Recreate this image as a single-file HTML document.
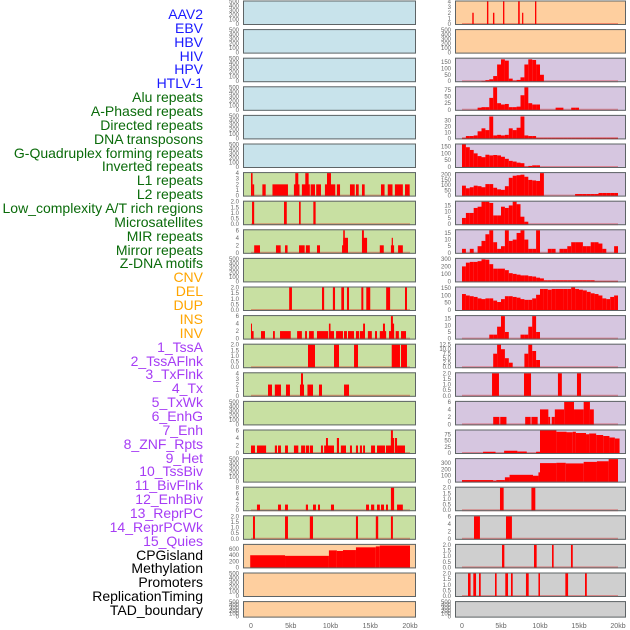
<!DOCTYPE html>
<html><head><meta charset="utf-8">
<style>
html,body{margin:0;padding:0;background:#fff;}
#wrap{position:relative;width:630px;height:630px;overflow:hidden;}
.lab{position:absolute;right:427px;font-family:"Liberation Sans",sans-serif;font-size:14px;line-height:14px;white-space:nowrap;}
svg text{font-family:"Liberation Sans",sans-serif;}
</style></head>
<body>
<div id="wrap">
<div id="labels"></div>
<svg id="svg" width="630" height="630" style="position:absolute;left:0;top:0"></svg>
</div>
<script>
// ---- track names ----
const labelNames = ["AAV2","EBV","HBV","HIV","HPV","HTLV-1","Alu repeats","A-Phased repeats","Directed repeats","DNA transposons","G-Quadruplex forming repeats","Inverted repeats","L1 repeats","L2 repeats","Low_complexity A/T rich regions","Microsatellites","MIR repeats","Mirror repeats","Z-DNA motifs","CNV","DEL","DUP","INS","INV","1_TssA","2_TssAFlnk","3_TxFlnk","4_Tx","5_TxWk","6_EnhG","7_Enh","8_ZNF_Rpts","9_Het","10_TssBiv","11_BivFlnk","12_EnhBiv","13_ReprPC","14_ReprPCWk","15_Quies","CPGisland","Methylation","Promoters","ReplicationTiming","TAD_boundary"];
const labelGroups = [6,13,5,15,5];
const groupColors = ["#1a1aff","#0a6b0a","#ffa500","#a63cf5","#000000"];
const xTicks = [0,5,10,15,20];
const xTickLabels = ["0","5kb","10kb","15kb","20kb"];

// ---- segment data: [start_kb, end_kb, value] ----
const segM6 = [[0,0.2,4],[0.2,0.4,2],[1.43,1.85,2],[2.7,4.65,2],[5.4,6.1,2],[5.57,5.95,4],[6.4,7.4,2],[6.83,7.25,4],[7.5,8.05,2],[8.2,8.8,2],[9.3,10.6,2],[9.56,10.06,4],[10.8,11.2,2],[12.45,13.05,2],[13.2,13.55,2],[13.96,14.3,2],[16.35,16.8,2],[17.2,17.8,2],[18.1,19.1,2],[19.37,19.96,2]];
const segM7 = [[0.13,0.4,2],[4.15,4.5,2],[6.04,6.25,2],[7.84,8.13,2]];
const segM8 = [[0.4,1.13,2],[3.14,3.73,2],[4.28,4.6,2],[6.04,6.75,2],[6.9,7.4,2],[8.3,8.68,2],[11.45,12.2,2],[11.6,12.2,4],[11.6,11.8,6],[13.96,14.6,4],[13.96,14.2,6],[16.2,16.7,2],[17.6,18,2],[17.7,17.85,4],[18.5,19.1,2]];
const segM10 = [[4.8,5.15,2],[8.93,9.2,2],[10.3,10.57,2],[11.36,11.7,2],[12.07,12.33,2],[13.88,14.13,2],[14.5,15.0,2],[17,17.5,2],[19.37,19.62,2]];
const segM11 = [[0,0.33,2],[0,0.12,4],[1.26,1.76,2],[2.77,3.0,2],[3.65,5.0,2],[5.8,6.4,2],[6.8,7.04,2],[7.3,7.9,2],[8.3,9.7,2],[9.8,10.44,2],[9.8,10.0,4],[10.7,11.57,2],[11.7,12.07,2],[12.2,12.96,2],[13.2,13.6,2],[13.7,14.34,2],[14.1,14.34,4],[14.7,15.2,2],[15.6,15.85,2],[16.2,17.0,2],[16.6,16.85,4],[17.36,18.0,2],[17.7,18.0,4],[17.6,17.85,6],[18.2,18.6,2],[18.87,19.5,2]];
const segM12 = [[7.17,8.05,2],[10.44,11.07,2],[12.96,13.46,2],[17.7,18.74,2],[18.87,19.62,2]];
const segM13 = [[2.14,2.64,2],[3.0,3.77,2],[4.4,4.9,2],[6.16,6.67,2],[6.29,6.54,4],[7.1,7.8,2],[8.55,8.93,2],[11.7,12.33,2]];
const segM15 = [[0,0.5,2],[0.75,1.9,2],[3.0,3.27,2],[3.4,3.77,2],[4.28,4.65,2],[5.4,5.95,2],[6.3,6.8,2],[6.9,7.3,2],[7.4,7.8,2],[8.8,9.05,2],[9.2,10.44,2],[9.43,9.68,4],[10.8,11.07,4],[11.3,11.95,2],[12.45,12.7,2],[13.2,13.46,2],[13.7,13.96,2],[14.1,14.34,2],[15.1,15.6,2],[15.85,16.86,2],[16.98,17.23,2],[17.23,18.0,2],[17.6,18.0,4],[17.6,17.85,6],[18.1,18.37,4],[18.37,19.37,2]];
const segM17 = [[0.75,1.13,2],[3.4,3.77,2],[4.28,4.65,2],[6.9,7.17,2],[7.8,8.17,2],[8.43,8.68,2],[10.06,10.44,2],[14.47,14.84,2],[15.1,15.5,2],[15.85,16.2,2],[16.35,16.73,2],[16.98,17.23,2],[17.6,18,8],[18.37,19.1,2]];
const segM18 = [[0.25,0.5,2],[4.28,4.65,2],[7.4,7.8,2],[13.2,13.46,2],[15.7,16.0,2],[17.6,17.85,2]];
const segM19 = [[-0.1,4.28,400],[4.28,9.8,380],[9.8,10.8,560],[10.8,11.57,540],[11.57,13.2,570],[13.2,15.7,660],[15.7,16.2,690],[16.2,20,720]];
const segR0 = [[1.32,1.5,2],[3.2,3.38,4],[3.97,4.15,2],[5.26,5.43,4],[7.2,7.4,4],[7.7,7.86,2],[9.36,9.53,4]];
const segR13 = [[3.85,4.74,2],[7.95,8.85,2],[12.3,12.8,2],[14.74,15.26,2]];
const segR14 = [[4.0,4.8,2],[4.9,5.7,2],[8.1,8.8,2],[8.9,9.7,2],[10,11.07,4],[11.07,11.3,2],[11.5,11.9,2],[11.9,13.1,4],[13.1,14.36,6],[14.36,15.6,4],[15.6,16.4,6],[16.4,16.9,4]];
const segR15 = [[2.7,4.3,5],[5.4,7.1,9],[7.1,8.3,6],[9.5,10,5],[10,12.1,90],[12.1,13.4,85],[13.4,14.2,83],[14.2,14.6,85],[14.6,15.9,80],[15.9,16.3,75],[16.3,17.2,78],[17.2,18.1,72],[18.1,18.9,68],[18.9,19.6,62],[19.6,20.2,58]];
const segR16 = [[0,4,25],[4,4.4,15],[4.4,5.5,25],[5.5,6.1,70],[6.1,9.1,110],[9.1,9.8,95],[9.8,10,150],[10,12.1,300],[12.1,13.3,305],[13.3,15.6,295],[15.6,17.3,320],[17.3,18.8,330],[18.8,20,365]];
const segR17 = [[4.87,5.34,2],[8.9,9.4,2]];
const segR18 = [[1.54,2.3,6],[5.64,6.4,6]];
const segR19 = [[5.13,5.43,2],[9.23,9.57,2],[11.54,11.75,2],[13.97,14.2,2]];
const segR20 = [[0.77,1.1,2],[1.45,1.8,2],[2.18,2.4,2],[4.23,4.44,2],[5.55,5.9,2],[6.28,6.5,2],[8.2,8.55,2],[9.8,10,2],[13.25,13.6,2],[15.77,16,2]];

// ---- binned data: 0.5kb bins starting at 0 kb ----
const binR2 = [0,0,0,0,0,2,8,15,40,130,170,160,20,5,10,30,130,170,165,130,50];
const binR3 = [0,0,0,0,8,10,10,45,85,25,20,22,10,10,12,55,85,25,20,20,0,0,0,0,8,8,0,0,8,8];
const binR4 = [1,4,4,5,12,17,14,37,5,6,5,6,17,14,18,37,5,4,4,1,1,1,1,1,1,1,1,1,1,1,1,1,1,1,1,1,1,1,1,1];
const binR5 = [165,145,125,100,80,72,90,85,88,85,75,60,45,40,32,28,3,8,12,12];
const binR6 = [95,70,80,95,90,80,110,110,75,60,55,90,170,190,195,200,180,150,145,140,215,0,0,0,0,0,0,0,0,15,15,15,15,15,15,25,25,25,25,25];
const binR7 = [5,9,9,13,14,18,18,17,7,7,14,13,15,18,16,6,2];
const binR8 = [3,0,3,0,5,9,14,17,8,3,5,17,9,10,15,17,10,3,3,17,0,0,3,3,0,3,3,5,8,8,8,5,5,8,8,7,3,0,0,5];
const binR9 = [200,250,260,260,270,295,290,230,170,170,170,150,110,100,90,80,80,70,65,50,40,15,15,15,15,15,15,15,15,15,15,15,15,15,3,3,3,3,3,3];
const binR10 = [110,100,95,90,80,75,80,80,65,55,75,95,95,90,85,75,70,70,80,105,145,145,140,145,145,145,145,145,155,145,140,135,125,115,110,100,80,75,90,100];
const binR11 = [0,0,0,0,0,0,0,3,3,9,17,5,0,0,0,3,3,9,17,5];
const binR12 = [0,0,0,0,0,0,0,0,7.5,12.5,10,5,2.5,0,0,0,7.5,12.5,9,4];

// ---- panel definitions ----
const panels = [
 {id:"aav2",col:0,row:0,bg:"#c8e3eb",ticks:[0,100,200,300,400,500],ymax:500},
 {id:"ebv",col:0,row:1,bg:"#c8e3eb",ticks:[0,100,200,300,400,500],ymax:500},
 {id:"hbv",col:0,row:2,bg:"#c8e3eb",ticks:[0,100,200,300,400,500],ymax:500},
 {id:"hiv",col:0,row:3,bg:"#c8e3eb",ticks:[0,100,200,300,400,500],ymax:500},
 {id:"hpv",col:0,row:4,bg:"#c8e3eb",ticks:[0,100,200,300,400,500],ymax:500},
 {id:"htlv1",col:0,row:5,bg:"#c8e3eb",ticks:[0,100,200,300,400,500],ymax:500},
 {id:"alu",col:0,row:6,bg:"#c8e0a2",ticks:[0,1,2,3,4],ymax:4,segs:segM6},
 {id:"a-phased",col:0,row:7,bg:"#c8e0a2",ticks:[0,0.5,1,1.5,2],ymax:2,dec:1,segs:segM7},
 {id:"directed",col:0,row:8,bg:"#c8e0a2",ticks:[0,2,4,6],ymax:6,segs:segM8},
 {id:"dna-transposons",col:0,row:9,bg:"#c8e0a2",ticks:[0,100,200,300,400,500],ymax:500},
 {id:"g-quadruplex",col:0,row:10,bg:"#c8e0a2",ticks:[0,0.5,1,1.5,2],ymax:2,dec:1,segs:segM10},
 {id:"inverted",col:0,row:11,bg:"#c8e0a2",ticks:[0,2,4,6],ymax:6,segs:segM11},
 {id:"l1",col:0,row:12,bg:"#c8e0a2",ticks:[0,0.5,1,1.5,2],ymax:2,dec:1,segs:segM12},
 {id:"l2",col:0,row:13,bg:"#c8e0a2",ticks:[0,1,2,3,4],ymax:4,segs:segM13},
 {id:"low-complexity",col:0,row:14,bg:"#c8e0a2",ticks:[0,100,200,300,400,500],ymax:500},
 {id:"microsatellites",col:0,row:15,bg:"#c8e0a2",ticks:[0,2,4,6],ymax:6,segs:segM15},
 {id:"mir",col:0,row:16,bg:"#c8e0a2",ticks:[0,100,200,300,400,500],ymax:500},
 {id:"mirror",col:0,row:17,bg:"#c8e0a2",ticks:[0,2,4,6,8],ymax:8,segs:segM17},
 {id:"z-dna",col:0,row:18,bg:"#c8e0a2",ticks:[0,0.5,1,1.5,2],ymax:2,dec:1,segs:segM18},
 {id:"cnv",col:0,row:19,bg:"#fecf9f",ticks:[0,200,400,600],ymax:740,segs:segM19,noBase:true},
 {id:"del",col:0,row:20,bg:"#fecf9f",ticks:[0,100,200,300,400,500],ymax:500},
 {id:"dup",col:0,row:21,bg:"#fecf9f",ticks:[0,100,200,300,400,500],ymax:500},
 {id:"ins",col:1,row:0,bg:"#fecf9f",ticks:[0,1,2,3,4],ymax:4,segs:segR0},
 {id:"inv",col:1,row:1,bg:"#fecf9f",ticks:[0,100,200,300,400,500],ymax:500},
 {id:"tssa",col:1,row:2,bg:"#d6c6e0",ticks:[0,50,100,150],ymax:175,bins:binR2},
 {id:"tssaflnk",col:1,row:3,bg:"#d6c6e0",ticks:[0,25,50,75],ymax:85,bins:binR3},
 {id:"txflnk",col:1,row:4,bg:"#d6c6e0",ticks:[0,10,20,30],ymax:38,bins:binR4},
 {id:"tx",col:1,row:5,bg:"#d6c6e0",ticks:[0,50,100,150],ymax:165,bins:binR5},
 {id:"txwk",col:1,row:6,bg:"#d6c6e0",ticks:[0,50,100,150,200],ymax:215,bins:binR6},
 {id:"enhg",col:1,row:7,bg:"#d6c6e0",ticks:[0,5,10,15],ymax:18,bins:binR7},
 {id:"enh",col:1,row:8,bg:"#d6c6e0",ticks:[0,5,10,15],ymax:17,bins:binR8},
 {id:"znf-rpts",col:1,row:9,bg:"#d6c6e0",ticks:[0,100,200,300],ymax:300,bins:binR9},
 {id:"het",col:1,row:10,bg:"#d6c6e0",ticks:[0,50,100,150],ymax:155,bins:binR10},
 {id:"tssbiv",col:1,row:11,bg:"#d6c6e0",ticks:[0,5,10,15],ymax:17,bins:binR11},
 {id:"bivflnk",col:1,row:12,bg:"#d6c6e0",ticks:[0,2.5,5,7.5,10,12.5],ymax:12.5,dec:1,bins:binR12},
 {id:"enhbiv",col:1,row:13,bg:"#d6c6e0",ticks:[0,0.5,1,1.5,2],ymax:2,dec:1,segs:segR13},
 {id:"reprpc",col:1,row:14,bg:"#d6c6e0",ticks:[0,2,4,6],ymax:6,segs:segR14},
 {id:"reprpcwk",col:1,row:15,bg:"#d6c6e0",ticks:[0,25,50,75],ymax:90,segs:segR15},
 {id:"quies",col:1,row:16,bg:"#d6c6e0",ticks:[0,100,200,300],ymax:365,segs:segR16},
 {id:"cpgisland",col:1,row:17,bg:"#cfcfcf",ticks:[0,0.5,1,1.5,2],ymax:2,dec:1,segs:segR17},
 {id:"methylation",col:1,row:18,bg:"#cfcfcf",ticks:[0,2,4,6],ymax:6,segs:segR18},
 {id:"promoters",col:1,row:19,bg:"#cfcfcf",ticks:[0,0.5,1,1.5,2],ymax:2,dec:1,segs:segR19},
 {id:"replication-timing",col:1,row:20,bg:"#cfcfcf",ticks:[0,0.5,1,1.5,2],ymax:2,dec:1,segs:segR20},
 {id:"tad-boundary",col:1,row:21,bg:"#cfcfcf",ticks:[0,100,200,300,400,500],ymax:500}
];

// ---- layout ----
const cols = [{x0:243,x1:416,zero:251,pxkb:7.95,tickR:239},{x0:455,x1:626,zero:462,pxkb:7.8,tickR:451}];
function rowTop(r){return r*28.6+0.5;}
function rowH(r){return r===21?16.5:24.5;}
function xs(c,kb){return cols[c].zero+kb*cols[c].pxkb;}
function ys(p,v){const t=rowTop(p.row),h=rowH(p.row);return t+h-1-(v/p.ymax)*(h-2);}

// labels
const labDiv=document.getElementById('labels');
let idx=0;
labelGroups.forEach((n,g)=>{for(let k=0;k<n;k++){
  const d=document.createElement('div');
  d.className='lab';
  d.style.top=(15+idx*13.86-8)+'px';
  d.style.color=groupColors[g];
  d.textContent=labelNames[idx];
  
  
  labDiv.appendChild(d);idx++;}});

const svg=document.getElementById('svg');
const NS='http://www.w3.org/2000/svg';
function mk(tag,attrs,parent){const e=document.createElementNS(NS,tag);for(const k in attrs)e.setAttribute(k,attrs[k]);parent.appendChild(e);return e;}

panels.forEach(p=>{
  const c=cols[p.col];const t=rowTop(p.row),h=rowH(p.row);
  const g=mk('g',{},svg);
  
  
  const bg=mk('rect',{x:c.x0,y:t,width:c.x1-c.x0,height:h,fill:p.bg},g);
  
  
  if(p.segs||p.bins){
    if(!p.noBase){
      const bl=mk('line',{x1:xs(p.col,0),x2:xs(p.col,20),y1:ys(p,0),y2:ys(p,0),stroke:'rgba(220,0,0,0.35)','stroke-width':2},g);
      
      
    }
    const segs=p.segs?p.segs:p.bins.map((v,i)=>[i*0.5,i*0.5+0.5,v]);
    segs.forEach(s=>{
      if(s[2]<=0)return;
      const x0=xs(p.col,s[0]),x1=xs(p.col,s[1]);
      const b=mk('rect',{x:x0,y:ys(p,s[2]),width:Math.max(1,x1-x0),height:ys(p,0)-ys(p,s[2])+0.5,fill:'#ff0000'},g);
      
      
    });
  }
  const fr=mk('rect',{x:c.x0+0.5,y:t+0.5,width:c.x1-c.x0-1,height:h-1,fill:'none',stroke:'#5e6466','stroke-width':1},g);
  
  
  p.ticks.forEach(v=>{
    const tx=mk('text',{x:c.tickR,y:ys(p,v)+2,'font-size':6,fill:'#666','text-anchor':'end'},g);
    tx.textContent=p.dec?v.toFixed(1):String(v);
    
    
  });
});

// x-axis tick labels
[0,1].forEach(ci=>{
  xTicks.forEach((v,i)=>{
    const tx=mk('text',{x:xs(ci,v),y:628,'font-size':7,fill:'#666','text-anchor':'middle'},svg);
    tx.textContent=xTickLabels[i];
    
    
  });
});
</script>
</body></html>
